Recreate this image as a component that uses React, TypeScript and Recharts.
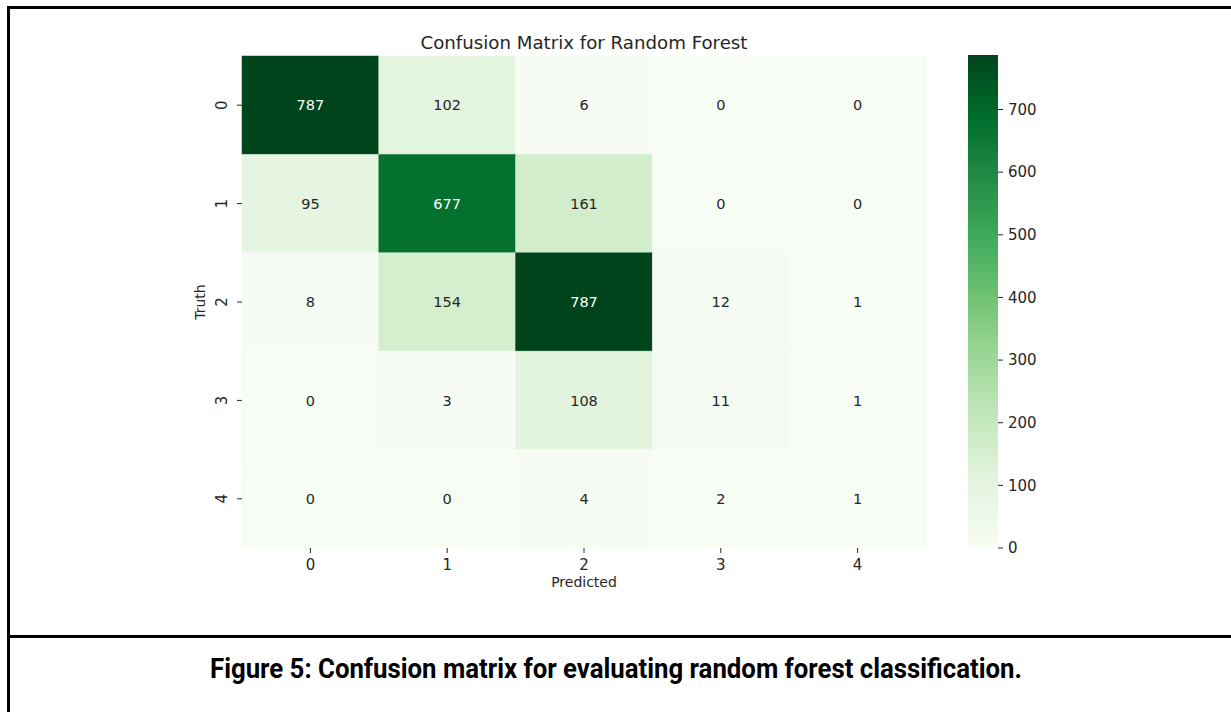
import React from 'react';
import {
  ComposedChart, Scatter, XAxis, YAxis, ReferenceArea, BarChart, Bar,
} from 'recharts';

// ---------- data ----------
const predictedLabels = ['0', '1', '2', '3', '4'];
const truthLabels = ['0', '1', '2', '3', '4'];
const row0 = [787, 102, 6, 0, 0];
const row1 = [95, 677, 161, 0, 0];
const row2 = [8, 154, 787, 12, 1];
const row3 = [0, 3, 108, 11, 1];
const row4 = [0, 0, 4, 2, 1];
const matrix = [row0, row1, row2, row3, row4];
const colorbarTicks = [0, 100, 200, 300, 400, 500, 600, 700];
const title = 'Confusion Matrix for Random Forest';
const caption = 'Figure 5: Confusion matrix for evaluating random forest classification.';

// ---------- colormap (matplotlib Greens) ----------
const GREENS = ['#f7fcf5', '#e5f5e0', '#c7e9c0', '#a1d99b', '#74c476', '#41ab5d', '#238b45', '#006d2c', '#00441b'];
const hexToRgb = (h: string) => [1, 3, 5].map((i) => parseInt(h.slice(i, i + 2), 16));
const greens = (t: number) => {
  const tt = Math.max(0, Math.min(1, t)) * (GREENS.length - 1);
  const i = Math.min(GREENS.length - 2, Math.floor(tt));
  const f = tt - i;
  const a = hexToRgb(GREENS[i]);
  const b = hexToRgb(GREENS[i + 1]);
  const c = a.map((v, k) => Math.round(v + (b[k] - v) * f));
  return { rgb: c, css: `rgb(${c[0]},${c[1]},${c[2]})` };
};
const relLum = (rgb: number[]) => {
  const l = rgb.map((v) => {
    const s = v / 255;
    return s <= 0.03928 ? s / 12.92 : Math.pow((s + 0.055) / 1.055, 2.4);
  });
  return 0.2126 * l[0] + 0.7152 * l[1] + 0.0722 * l[2];
};

const vmax = Math.max(...matrix.flat());
const cells = matrix.flatMap((row, r) =>
  row.map((v, c) => {
    const col = greens(v / vmax);
    return { x: c, y: r, v, fill: col.css, text: relLum(col.rgb) > 0.408 ? '#262626' : '#ffffff' };
  })
);

const FONT = '"DejaVu Sans", sans-serif';
const TXT = '#262626';

const YTick = (props: any) => {
  const { x, y, payload } = props;
  return (
    <text x={x} y={y} transform={`rotate(-90, ${x}, ${y})`} textAnchor="middle" dy="0.36em"
      fontSize={15} fontFamily={FONT} fill={TXT}>
      {truthLabels[payload.value]}
    </text>
  );
};

const TruthLabel = (props: any) => {
  const vb = props.viewBox || {};
  const x = vb.x + 18;
  const y = vb.y + vb.height / 2;
  return (
    <text x={x} y={y} transform={`rotate(-90, ${x}, ${y})`} textAnchor="middle" dy="0.36em"
      fontSize={14} fontFamily={FONT} fill={TXT}>
      Truth
    </text>
  );
};

export default function App() {
  return (
    <div style={{ position: 'relative', width: 1231, height: 712, background: '#fff', overflow: 'hidden' }}>
      <style>{'body{margin:0}'}</style>
      {/* frame */}
      <div style={{ position: 'absolute', left: 7, top: 6, width: 1224, height: 3, background: '#000' }} />
      <div style={{ position: 'absolute', left: 7, top: 6, width: 3, height: 706, background: '#000' }} />
      <div style={{ position: 'absolute', left: 7, top: 635, width: 1224, height: 3, background: '#000' }} />

      {/* title */}
      <div style={{ position: 'absolute', left: 242, width: 684, top: 33, textAlign: 'center',
        fontFamily: FONT, fontSize: 18.2, color: TXT, lineHeight: '20px' }}>{title}</div>

      {/* heatmap */}
      <div style={{ position: 'absolute', left: 0, top: 0 }}>
        <ComposedChart width={1231} height={712} data={cells}
          margin={{ top: 56, right: 305, bottom: 124, left: 182 }}>
          <XAxis type="number" dataKey="x" domain={[-0.5, 4.5]} ticks={[0, 1, 2, 3, 4]}
            tickFormatter={(v: number) => predictedLabels[v]} axisLine={false} tickSize={5} tickMargin={6}
            height={40} tickLine={{ stroke: TXT }} interval={0}
            tick={{ fontSize: 15, fontFamily: FONT, fill: TXT }}
            label={{ value: 'Predicted', position: 'insideBottom', offset: 1, fontSize: 14, fontFamily: FONT, fill: TXT }} />
          <YAxis type="number" dataKey="y" domain={[-0.5, 4.5]} ticks={[0, 1, 2, 3, 4]} reversed
            axisLine={false} tickSize={5} tickMargin={15} width={60} tickLine={{ stroke: TXT }} interval={0}
            tick={<YTick />} label={{ content: <TruthLabel /> }} />
          {cells.map((c, i) => (
            <ReferenceArea key={i} x1={c.x - 0.5} x2={c.x + 0.5} y1={c.y - 0.5} y2={c.y + 0.5}
              fill={c.fill} fillOpacity={1} stroke={c.fill} strokeWidth={0.5}
              label={{ value: String(c.v), position: 'center', fill: c.text, fontSize: 14.5, fontFamily: FONT }} />
          ))}
          <Scatter dataKey="v" isAnimationActive={false} shape={() => <g />} legendType="none" />
        </ComposedChart>
      </div>

      {/* colorbar */}
      <div style={{ position: 'absolute', left: 968, top: 0 }}>
        <BarChart width={100} height={712} data={[{ name: 'cb', v: vmax }]}
          margin={{ top: 55, right: 0, bottom: 164, left: 0 }} barCategoryGap={0}>
          <defs>
            <linearGradient id="cbGrad" x1="0" y1="1" x2="0" y2="0">
              {GREENS.map((g, i) => (
                <stop key={i} offset={`${(i / (GREENS.length - 1)) * 100}%`} stopColor={g} />
              ))}
            </linearGradient>
          </defs>
          <XAxis dataKey="name" hide />
          <YAxis orientation="right" type="number" domain={[0, vmax]} ticks={colorbarTicks} width={70}
            axisLine={false} tickSize={5} tickMargin={5} tickLine={{ stroke: TXT }} interval={0}
            tick={{ fontSize: 15, fontFamily: FONT, fill: TXT, textAnchor: 'start' }} />
          <Bar dataKey="v" fill="url(#cbGrad)" isAnimationActive={false} />
        </BarChart>
      </div>

      {/* caption */}
      <svg style={{ position: 'absolute', left: 0, top: 640 }} width={1231} height={60}>
        <text x={616} y={38} textAnchor="middle" fontFamily="Roboto, sans-serif" fontWeight={700}
          fontSize={27} fill="#000" textLength={812} lengthAdjust="spacingAndGlyphs">{caption}</text>
      </svg>
    </div>
  );
}
